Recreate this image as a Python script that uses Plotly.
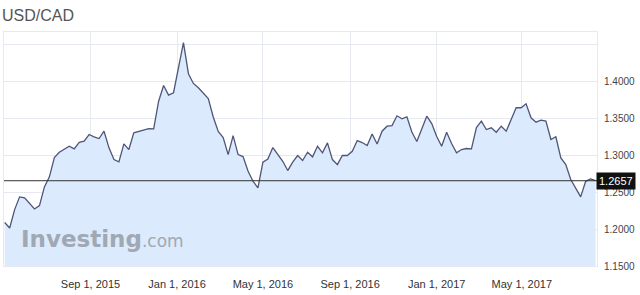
import pandas as pd
import plotly.graph_objects as go

title = "USD/CAD"
start_date = "2015-05-03"  # weekly observations
values = [
    1.2090, 1.2016, 1.2265, 1.2438, 1.2425, 1.2342, 1.2274, 1.2319, 1.2573, 1.2710,
    1.2970, 1.3043, 1.3090, 1.3125, 1.3090, 1.3179, 1.3193, 1.3284, 1.3253, 1.3230,
    1.3329, 1.3103, 1.2944, 1.2913, 1.3158, 1.3080, 1.3307, 1.3329, 1.3348, 1.3365,
    1.3361, 1.3736, 1.3950, 1.3818, 1.3851, 1.4190, 1.4530, 1.4109, 1.3977, 1.3918,
    1.3841, 1.3773, 1.3522, 1.3325, 1.3243, 1.3012, 1.3270, 1.3012, 1.2985, 1.2790,
    1.2650, 1.2560, 1.2908, 1.2951, 1.3107, 1.3012, 1.2921, 1.2795, 1.2908, 1.2999,
    1.2931, 1.3043, 1.2981, 1.3125, 1.3035, 1.3171, 1.2944, 1.2876, 1.2999, 1.2999,
    1.3057, 1.3202, 1.3175, 1.3134, 1.3291, 1.3155, 1.3329, 1.3397, 1.3406, 1.3538,
    1.3497, 1.3524, 1.3318, 1.3189, 1.3365, 1.3533, 1.3433, 1.3257, 1.3125, 1.3315,
    1.3162, 1.3035, 1.3080, 1.3094, 1.3090, 1.3379, 1.3465, 1.3352, 1.3375, 1.3315,
    1.3397, 1.3329, 1.3488, 1.3647, 1.3647, 1.3701, 1.3511, 1.3451, 1.3478, 1.3465,
    1.3216, 1.3253, 1.2967, 1.2876, 1.2673, 1.2560, 1.2438, 1.2649, 1.2682, 1.2657,
]
last_price = 1.2657
last_label = "1.2657"

x_tick_dates = ["2015-09-01", "2016-01-01", "2016-05-01", "2016-09-01", "2017-01-01", "2017-05-01"]
x_tick_text = ["Sep 1, 2015", "Jan 1, 2016", "May 1, 2016", "Sep 1, 2016", "Jan 1, 2017", "May 1, 2017"]
y_tick_vals = [1.15, 1.20, 1.25, 1.30, 1.35, 1.40, 1.45]
y_tick_text = ["1.1500", "1.2000", "1.2500", "1.3000", "1.3500", "1.4000", ""]

dates = pd.date_range(start_date, periods=len(values), freq="7D")

fig = go.Figure()
fig.add_trace(go.Scatter(
    x=dates, y=values, mode="lines",
    line=dict(color="#4f5677", width=1.3),
    fill="tozeroy", fillcolor="#dbeafc",
    hoverinfo="skip",
))

fig.add_shape(type="line", xref="paper", yref="y", x0=0, x1=1, y0=last_price, y1=last_price,
              line=dict(color="#333333", width=1), layer="above")

fig.add_annotation(xref="paper", yref="y", x=1.0, y=last_price, text=last_label,
                   showarrow=False, xanchor="left", yanchor="middle",
                   font=dict(family="Liberation Sans, Arial, sans-serif", size=11, color="white"),
                   bgcolor="#111111", borderpad=2, xshift=-1)

fig.add_annotation(xref="paper", yref="paper", x=0.0, y=1.0, yanchor="bottom", xanchor="left",
                   text="USD/CAD", showarrow=False, yshift=6, xshift=-4,
                   font=dict(family="Liberation Sans, Arial, sans-serif", size=16, color="#555555"))

fig.add_annotation(xref="paper", yref="paper", x=0.026, y=0.05, xanchor="left", yanchor="bottom",
                   text="<b>Investing</b><span style='font-size:17px'>.com</span>", showarrow=False,
                   font=dict(family="DejaVu Sans, sans-serif", size=23, color="#a0a8b3"))

fig.update_layout(
    width=640, height=295,
    margin=dict(l=4, r=43, t=32, b=29),
    paper_bgcolor="white", plot_bgcolor="white",
    showlegend=False,
    xaxis=dict(
        type="date", range=["2015-05-02", "2017-08-15"],
        tickvals=x_tick_dates, ticktext=x_tick_text,
        showgrid=True, gridcolor="#e6e9ef", gridwidth=1,
        showline=True, linecolor="#e6e9ef", mirror=True,
        ticks="", ticklabelstandoff=8,
        tickfont=dict(family="Liberation Sans, Arial, sans-serif", size=11, color="#333333"),
        zeroline=False, fixedrange=True,
    ),
    yaxis=dict(
        range=[1.15, 1.4675], side="right",
        tickvals=y_tick_vals, ticktext=y_tick_text,
        showgrid=True, gridcolor="#e6e9ef", gridwidth=1,
        showline=True, linecolor="#e6e9ef", mirror=True,
        ticks="", ticklabelstandoff=4,
        tickfont=dict(family="Liberation Sans, Arial, sans-serif", size=10, color="#444444"),
        zeroline=False, fixedrange=True,
    ),
)

fig.write_html("out.html", config={"displayModeBar": False})
